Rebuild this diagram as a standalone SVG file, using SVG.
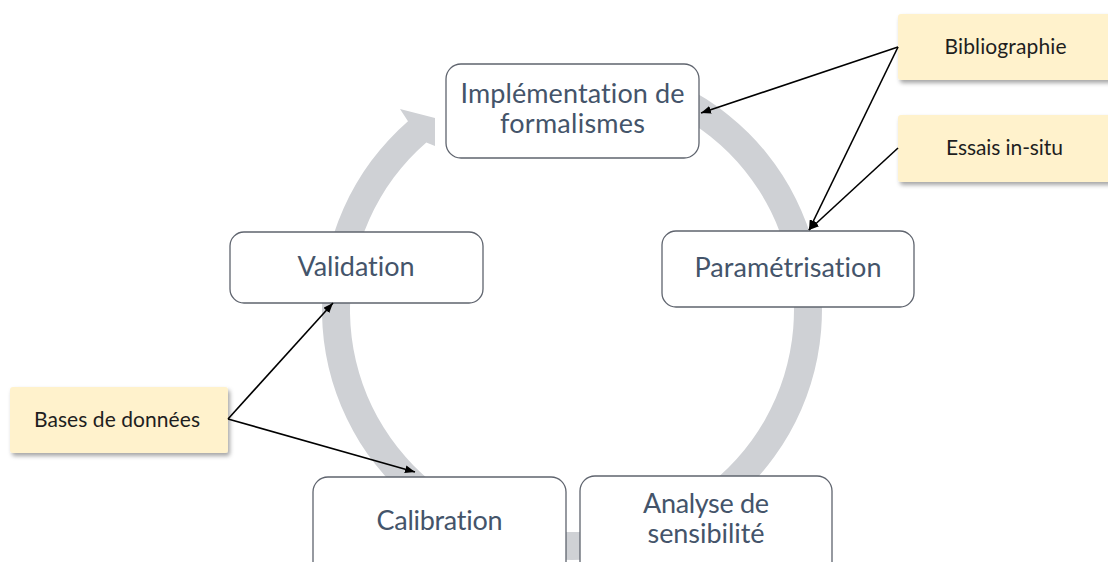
<svg xmlns="http://www.w3.org/2000/svg" width="1108" height="562" viewBox="0 0 1108 562">
<style>
.box{fill:#ffffff;stroke:#5f646e;stroke-width:1.3}
.lbl{font-family:Lato,"Liberation Sans",sans-serif;font-size:27px;fill:#44546A;text-anchor:middle;font-variant-ligatures:none;font-feature-settings:"liga" 0,"clig" 0}
.note{fill:#FFF2CC;stroke:none}
.ntxt{font-family:Lato,"Liberation Sans",sans-serif;font-size:21px;fill:#1e1e1e;text-anchor:middle;font-variant-ligatures:none;font-feature-settings:"liga" 0,"clig" 0}
.conn{stroke:#000;stroke-width:1.6;fill:none}
</style>
<defs>
<marker id="ah" viewBox="0 0 10 8" refX="10" refY="4" markerWidth="10" markerHeight="8" markerUnits="userSpaceOnUse" orient="auto">
<path d="M0,0 L10,4 L0,8 z" fill="#000"/>
</marker>
<filter id="sh" x="-10%" y="-20%" width="130%" height="160%">
<feDropShadow dx="2" dy="3" stdDeviation="2" flood-color="#000" flood-opacity="0.35"/>
</filter>
</defs>
<g id="cycle-arrow">
<path d="M 657.5 75.1 A 250 250 0 1 1 408.0 121.3 L 400 109 L 435 118 L 435 146 L 426.3 142.5 A 222 222 0 1 0 647.9 101.4 Z" fill="#CFD1D5"/>
</g>
<g id="node-implementation">
<rect class="box" x="446" y="64" width="253" height="94" rx="15"/>
<text class="lbl" x="572.5" y="103" textLength="224">Implémentation de</text>
<text class="lbl" x="572.5" y="133" textLength="145">formalismes</text>
</g>
<g id="node-parametrisation">
<rect class="box" x="662" y="231" width="252" height="76" rx="14"/>
<text class="lbl" x="788" y="277" textLength="187">Paramétrisation</text>
</g>
<g id="node-validation">
<rect class="box" x="230" y="232" width="253" height="71" rx="14"/>
<text class="lbl" x="356" y="276" textLength="117">Validation</text>
</g>
<g id="node-calibration">
<rect class="box" x="313" y="477" width="253" height="110" rx="15"/>
<text class="lbl" x="439.5" y="530" textLength="126">Calibration</text>
</g>
<g id="node-analyse">
<rect class="box" x="580" y="476" width="252" height="110" rx="15"/>
<text class="lbl" x="706" y="513" textLength="126">Analyse de</text>
<text class="lbl" x="706" y="543" textLength="117">sensibilité</text>
</g>
<g id="node-bibliographie">
<rect class="note" x="898" y="14" width="230" height="66" rx="3" filter="url(#sh)"/>
<text class="ntxt" x="1005.5" y="54" textLength="122">Bibliographie</text>
</g>
<g id="node-essais">
<rect class="note" x="898" y="115" width="230" height="67" rx="3" filter="url(#sh)"/>
<text class="ntxt" x="1004.5" y="155" textLength="117">Essais in-situ</text>
</g>
<g id="node-bases">
<rect class="note" x="10" y="387" width="218" height="66" rx="3" filter="url(#sh)"/>
<text class="ntxt" x="117" y="427" textLength="166">Bases de données</text>
</g>
<g id="connectors">
<line class="conn" x1="898" y1="47" x2="701" y2="113" marker-end="url(#ah)"/>
<line class="conn" x1="898" y1="47" x2="809" y2="230" marker-end="url(#ah)"/>
<line class="conn" x1="898" y1="148" x2="809" y2="230" marker-end="url(#ah)"/>
<line class="conn" x1="228" y1="419" x2="333" y2="303" marker-end="url(#ah)"/>
<line class="conn" x1="228" y1="419" x2="415" y2="472" marker-end="url(#ah)"/>
</g>
</svg>
